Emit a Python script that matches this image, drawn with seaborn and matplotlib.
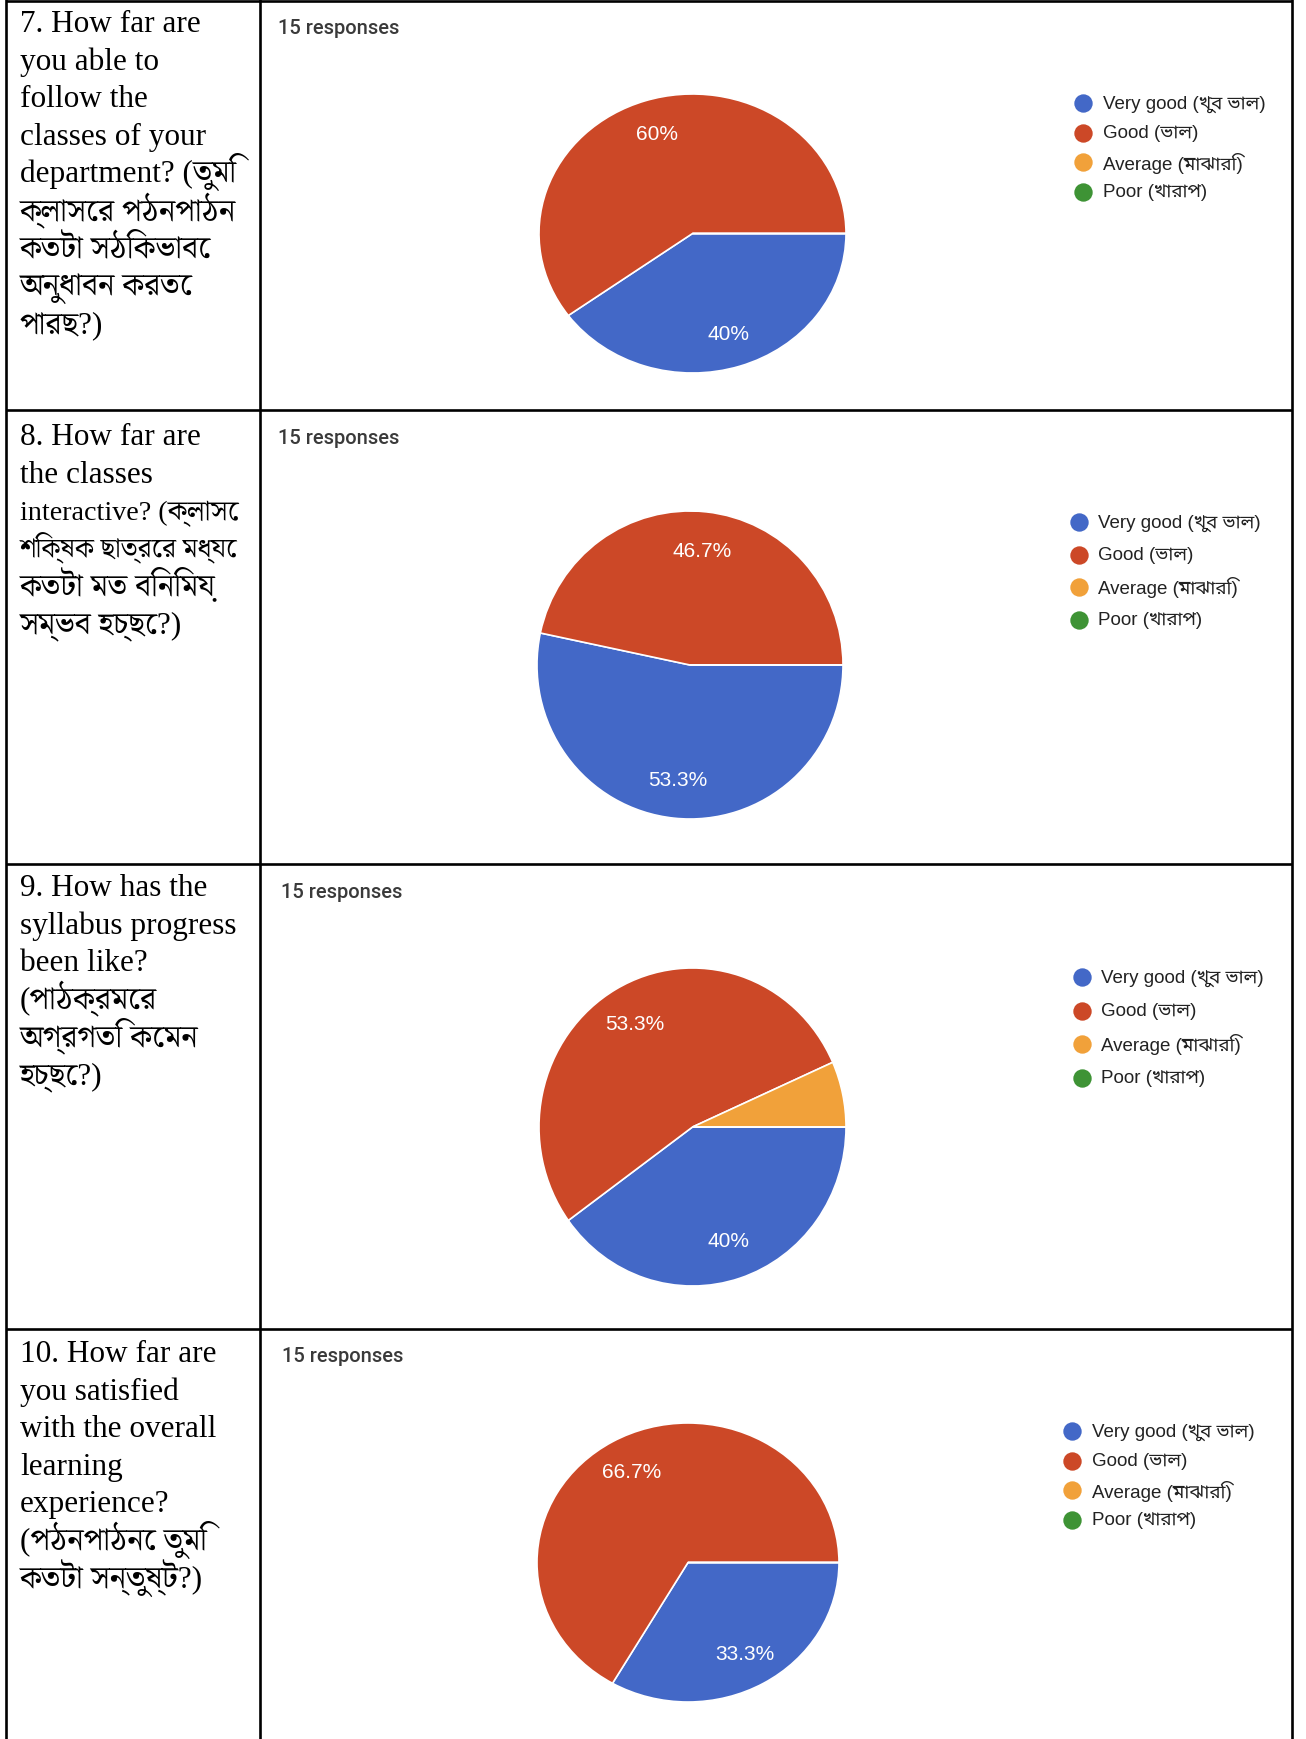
import matplotlib
matplotlib.use("Agg")
import matplotlib.pyplot as plt
from matplotlib import font_manager, ft2font
import seaborn as sns

# ---- data ----
categories = ["Very good (খুব ভাল)", "Good (ভাল)", "Average (মাঝারি)", "Poor (খারাপ)"]
colors = ["#4368c7", "#cc4827", "#f1a13a", "#3e9335"]

q7_counts = [6, 9, 0, 0]
q8_counts = [8, 7, 0, 0]
q9_counts = [6, 8, 1, 0]
q10_counts = [5, 10, 0, 0]
responses = [15, 15, 15, 15]

q7_text = ["7. How far are", "you able to", "follow the", "classes of your",
           "department? (তুমি", "ক্লাসের পঠনপাঠন", "কতটা সঠিকভাবে",
           "অনুধাবন করতে", "পারছ?)"]
q8_text = ["8. How far are", "the classes", "interactive? (ক্লাসে",
           "শিক্ষক ছাত্রের মধ্যে", "কতটা মত বিনিময়", "সম্ভব হচ্ছে?)"]
q9_text = ["9. How has the", "syllabus progress", "been like?",
           "(পাঠক্রমের", "অগ্রগতি কেমন", "হচ্ছে?)"]
q10_text = ["10. How far are", "you satisfied", "with the overall", "learning",
            "experience?", "(পঠনপাঠনে তুমি", "কতটা সন্তুষ্ট?)"]

# ---- layout (pixels of the 1306x1740 page) ----
W, H = 1306, 1740
pie_boxes = [(539, 95, 846, 374), (537, 512, 843, 820),
             (539, 969, 846, 1287), (537, 1424, 839, 1703)]
legend_dot_x = [1083, 1079, 1082, 1072]
legend_text_x = [1103, 1098, 1101, 1092]
legend_y0 = [104, 523, 978, 1432]
legend_step = [29.5, 32.5, 33.5, 29.6]
resp_xy = [(278, 29), (278, 439), (281, 893), (282, 1357)]
text_base = [32, 445, 896, 1362]
row_lines = [1.5, 411, 864.5, 1329.5]

sns.set_theme(style="white")


def bengali_fonts():
    found = []
    for f in font_manager.fontManager.ttflist:
        try:
            if ft2font.FT2Font(f.fname).get_char_index(ord("ক")):
                found.append(f.name)
        except Exception:
            pass
    return found


def pick(found, prefs):
    for p in prefs:
        if p in found:
            return [p]
    return [found[0]] if found else ["DejaVu Sans"]


found = bengali_fonts()
serif = ["Liberation Serif"] + pick(found, ["Noto Serif Bengali", "Noto Sans Bengali"])
sans = ["Liberation Sans"] + pick(found, ["Noto Sans Bengali", "Noto Serif Bengali"])


def pct_label(p):
    if p < 7:
        return ""
    return f"{p:.1f}".rstrip("0").rstrip(".") + "%"


fig = plt.figure(figsize=(W / 100, H / 100), dpi=100)
renderer = fig.canvas.get_renderer()
bg = fig.add_axes([0, 0, 1, 1], zorder=0)
bg.set_xlim(0, W)
bg.set_ylim(H, 0)
bg.axis("off")


def fit(t, maxw):
    # unshaped Bengali runs wide; shrink the line so it stays in its cell
    w = t.get_window_extent(renderer).width
    if w > maxw:
        t.set_fontsize(t.get_fontsize() * maxw / w)


# table grid
for x in [6, 259.5, 1292]:
    bg.plot([x, x], [0, H], color="black", lw=1.9, solid_capstyle="butt")
for y in row_lines:
    bg.plot([6, 1292], [y, y], color="black", lw=1.9, solid_capstyle="butt")

all_counts = [q7_counts, q8_counts, q9_counts, q10_counts]
all_text = [q7_text, q8_text, q9_text, q10_text]

for r in range(4):
    x0, y0, x1, y1 = pie_boxes[r]
    ax = fig.add_axes([x0 / W, 1 - y1 / H, (x1 - x0) / W, (y1 - y0) / H], zorder=2)
    wedges, _, autotexts = ax.pie(
        all_counts[r], colors=colors, startangle=0, counterclock=False,
        autopct=pct_label, pctdistance=0.75,
        wedgeprops=dict(edgecolor="white", linewidth=1.2),
        textprops=dict(color="white", fontsize=15, family=sans))
    for w in wedges:
        w.set_clip_on(False)
    ax.set_aspect("auto")
    ax.set_xlim(-1, 1)
    ax.set_ylim(-1, 1)

    # legend
    for i, (lab, col) in enumerate(zip(categories, colors)):
        yy = legend_y0[r] + i * legend_step[r]
        bg.scatter(legend_dot_x[r], yy, s=175, color=col, linewidths=0)
        t = bg.text(legend_text_x[r], yy, lab, va="center", ha="left",
                    fontsize=13.5, family=sans, color="#222222")
        fit(t, 178)

    # response count
    rx, ry = resp_xy[r]
    bg.text(rx, ry, f"{responses[r]} responses", va="center", ha="left",
            fontsize=14.5, family=["Roboto", "DejaVu Sans"], fontweight="medium",
            color="#3a3a3a")

    # question text
    for j, line in enumerate(all_text[r]):
        t = bg.text(20, text_base[r] + j * 37.6, line, va="baseline", ha="left",
                    fontsize=22.5, family=serif, color="black")
        fit(t, 218)

fig.savefig("out.png", dpi=100)
